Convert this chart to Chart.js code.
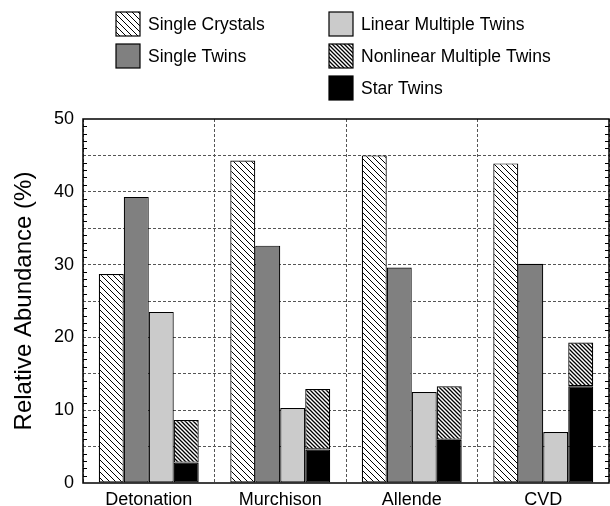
<!DOCTYPE html>
<html>
<head>
<meta charset="utf-8">
<script src="https://cdn.jsdelivr.net/npm/chart.js@4"></script>
<style>
  html, body { margin: 0; padding: 0; background: #fff; }
  #chart { display: block; }
</style>
</head>
<body>
<canvas id="chart" width="610" height="506"></canvas>
<script>
var categories = ['Detonation', 'Murchison', 'Allende', 'CVD'];
var singleCrystals = [28.7, 44.3, 45.0, 43.9];
var singleTwins = [39.3, 32.6, 29.6, 30.1];
var linearTwins = [23.5, 10.3, 12.5, 7.0];
var starTwins = [2.8, 4.6, 5.95, 13.3];
var nonlinearTwins = [5.85, 8.3, 7.35, 6.0];
var yTickLabels = [0, 10, 20, 30, 40, 50];

var FONT = '"Liberation Sans", Arial, sans-serif';

// small canvas tiles for the hatched fills
function hatch(size, width) {
    var c = document.createElement('canvas');
    c.width = size;
    c.height = size;
    var g = c.getContext('2d');
    g.fillStyle = '#fff';
    g.fillRect(0, 0, size, size);
    g.strokeStyle = '#000';
    g.lineWidth = width;
    g.beginPath();
    g.moveTo(-1, -1); g.lineTo(size + 1, size + 1);
    g.moveTo(-1, size - 1); g.lineTo(1, size + 1);
    g.moveTo(size - 1, -1); g.lineTo(size + 1, 1);
    g.stroke();
    return g.createPattern(c, 'repeat');
}

var sparseHatch = hatch(6, 1);
var denseHatch = hatch(4, 1.3);

function bars(label, data, fill, stack) {
    return {
        label: label,
        data: data,
        backgroundColor: fill,
        borderColor: '#000',
        borderWidth: 1.2,
        borderSkipped: false,
        stack: stack
    };
}

var legendColumns = [
    { x: 116, items: ['Single Crystals', 'Single Twins'] },
    { x: 329, items: ['Linear Multiple Twins', 'Nonlinear Multiple Twins', 'Star Twins'] }
];

var legendPlugin = {
    id: 'twoColLegend',
    afterDraw: function (chart) {
        var ctx = chart.ctx;
        var sets = chart.data.datasets;
        ctx.save();
        ctx.font = '17.5px ' + FONT;
        ctx.textBaseline = 'middle';
        legendColumns.forEach(function (col) {
            col.items.forEach(function (name, i) {
                var ds = sets.filter(function (d) { return d.label === name; })[0];
                var y = 12 + i * 32;
                ctx.fillStyle = ds.backgroundColor;
                ctx.fillRect(col.x, y, 24, 24);
                ctx.lineWidth = 1.2;
                ctx.strokeStyle = '#000';
                ctx.strokeRect(col.x, y, 24, 24);
                ctx.fillStyle = '#000';
                ctx.fillText(name, col.x + 32, y + 13);
            });
        });
        ctx.restore();
    }
};

var framePlugin = {
    id: 'frame',
    afterDatasetsDraw: function (chart) {
        var ctx = chart.ctx;
        var a = chart.chartArea;
        var y = chart.scales.y;
        ctx.save();
        ctx.strokeStyle = '#000';
        ctx.lineWidth = 1;
        // minor ticks every 1 unit, on both sides, pointing in
        ctx.beginPath();
        for (var v = 1; v < 50; v++) {
            if (v % 5 === 0) continue;
            var py = Math.round(y.getPixelForValue(v)) + 0.5;
            ctx.moveTo(a.left, py); ctx.lineTo(a.left + 4, py);
            ctx.moveTo(a.right, py); ctx.lineTo(a.right - 4, py);
        }
        ctx.stroke();
        ctx.lineWidth = 1.5;
        ctx.strokeRect(a.left, a.top, a.right - a.left, a.bottom - a.top);
        ctx.restore();
    }
};

new Chart(document.getElementById('chart'), {
    type: 'bar',
    data: {
        labels: categories,
        datasets: [
            bars('Single Crystals', singleCrystals, sparseHatch, 'a'),
            bars('Single Twins', singleTwins, '#808080', 'b'),
            bars('Linear Multiple Twins', linearTwins, '#cbcbcb', 'c'),
            bars('Star Twins', starTwins, '#000', 'd'),
            bars('Nonlinear Multiple Twins', nonlinearTwins, denseHatch, 'd')
        ]
    },
    options: {
        responsive: false,
        animation: false,
        layout: { padding: { top: 119, right: 1, left: 0, bottom: 0 } },
        datasets: {
            bar: { categoryPercentage: 0.76, barPercentage: 1 }
        },
        plugins: {
            legend: { display: false },
            tooltip: { enabled: false }
        },
        scales: {
            x: {
                stacked: true,
                afterFit: function (scale) { scale.height = 23; },
                grid: {
                    offset: true,
                    drawTicks: false,
                    color: '#555',
                    lineWidth: 1
                },
                border: { display: false, dash: [3, 2] },
                ticks: {
                    color: '#000',
                    padding: 6,
                    font: { family: FONT, size: 18 }
                }
            },
            y: {
                stacked: true,
                min: 0,
                max: 50,
                afterFit: function (scale) { scale.width = 83; },
                grid: {
                    drawTicks: false,
                    color: function (c) {
                        var v = c.tick ? c.tick.value : 0;
                        return (v > 0 && v < 50) ? '#555' : 'rgba(0,0,0,0)';
                    },
                    lineWidth: 1
                },
                border: { display: false, dash: [3, 2] },
                ticks: {
                    stepSize: 5,
                    color: '#000',
                    padding: 9,
                    font: { family: FONT, size: 18 },
                    callback: function (v) {
                        return yTickLabels.indexOf(v) >= 0 ? v : '';
                    }
                },
                title: {
                    display: true,
                    text: 'Relative Abundance (%)',
                    color: '#000',
                    padding: { top: 10, bottom: 6 },
                    font: { family: FONT, size: 24 }
                }
            }
        }
    },
    plugins: [legendPlugin, framePlugin]
});
</script>
</body>
</html>
